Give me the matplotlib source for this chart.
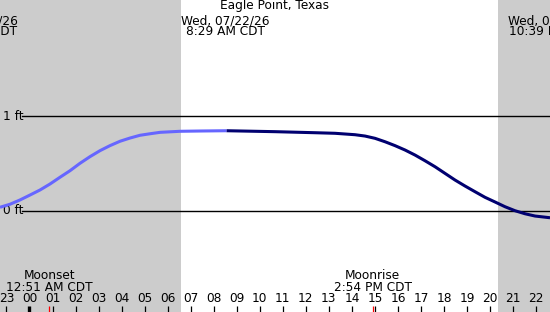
import numpy as np
import matplotlib
matplotlib.use("Agg")
import matplotlib.pyplot as plt

# tide curve (hours from 00:00 on 07/22, feet)
hours = [-1.281, -0.847, -0.413, 0.022, 0.456, 0.890, 1.324, 1.759, 2.193, 2.627,
         3.061, 3.495, 3.930, 4.364, 4.798, 5.232, 5.667, 6.535, 7.403, 8.560,
         10.660, 12.397, 13.266, 14.134, 14.569, 15.003, 15.437, 15.871, 16.305, 16.739,
         17.173, 17.608, 18.042, 18.476, 18.910, 19.345, 19.779, 20.213, 20.647,
         21.081, 21.516, 21.950, 22.601]
feet = [0.039, 0.071, 0.116, 0.168, 0.221, 0.284, 0.355, 0.424, 0.502, 0.572,
        0.635, 0.688, 0.734, 0.768, 0.797, 0.813, 0.828, 0.839, 0.842, 0.845,
        0.835, 0.824, 0.818, 0.803, 0.789, 0.765, 0.729, 0.688, 0.642, 0.589,
        0.529, 0.466, 0.396, 0.326, 0.263, 0.203, 0.144, 0.095, 0.045,
        0.003, -0.029, -0.053, -0.071]
now_hour = 8.56

sunrise = 6.58
sunset = 20.34

hour_labels = ["23"] + ["%02d" % h for h in range(0, 23)]
hour_ticks = list(range(-1, 23))

moon_events = [(0.85, "Moonset", "12:51 AM CDT"), (14.90, "Moonrise", "2:54 PM CDT")]
top_labels = [(-0.52, "Tue, 07/21/26", "9:33 PM CDT", "right"),
              (8.52, "Wed, 07/22/26", "8:29 AM CDT", "center"),
              (22.70, "Wed, 07/22/26", "10:39 PM CDT", "center")]
title = "Eagle Point, Texas"

X0, X1 = -1.28, 22.60
PX_HR = 23.03


def py(ypix):
    # pixel row -> feet
    return (211 - ypix) / 95.0


def main():
    plt.rcParams["font.family"] = ["DejaVu Sans"]
    fs = 8.7

    fig = plt.figure(figsize=(5.5, 3.12), dpi=100)
    ax = fig.add_axes([0, 0, 1, 1])
    ax.set_xlim(X0, X1)
    ax.set_ylim(py(312), py(0))
    ax.axis("off")

    ax.axvspan(X0, sunrise, color="#cccccc", lw=0, zorder=0)
    ax.axvspan(sunset, X1, color="#cccccc", lw=0, zorder=0)

    # datum lines
    x_line = (22 - 29.5) / PX_HR
    for lvl, lab in [(0, "0 ft"), (1, "1 ft")]:
        ax.plot([x_line, X1], [lvl, lvl], color="black", lw=1.0, zorder=1)
        ax.text(X0 + 2.5 / PX_HR, lvl, lab, ha="left", va="center", fontsize=fs)

    h = np.array(hours)
    f = np.array(feet)
    past = h <= now_hour
    fut = h >= now_hour
    ax.plot(h[past], f[past], color="#6666ff", lw=2.2, solid_capstyle="butt",
            solid_joinstyle="round", zorder=3)
    ax.plot(h[fut], f[fut], color="#000070", lw=2.2, solid_capstyle="butt",
            solid_joinstyle="round", zorder=3)

    # hour ticks and labels
    for t, lab in zip(hour_ticks, hour_labels):
        lw = 2.4 if t == 0 else 0.9
        ax.plot([t, t], [py(306), py(312)], color="black", lw=lw, solid_capstyle="butt")
        ax.text(t, py(301.7), lab, ha="center", va="baseline", fontsize=fs)

    for t, name, tm in moon_events:
        ax.plot([t, t], [py(306), py(312)], color="red", lw=0.9, solid_capstyle="butt")
        ax.text(t, py(279.3), name, ha="center", va="baseline", fontsize=fs)
        ax.text(t, py(290.7), tm, ha="center", va="baseline", fontsize=fs)

    ax.text(10.64, py(9.5), title, ha="center", va="baseline", fontsize=fs)
    for t, l1, l2, ha in top_labels:
        ax.text(t, py(25), l1, ha=ha, va="baseline", fontsize=fs)
        ax.text(t, py(35), l2, ha=ha, va="baseline", fontsize=fs)

    fig.savefig("out.png", dpi=100)
    plt.close(fig)


if __name__ == "__main__":
    main()
